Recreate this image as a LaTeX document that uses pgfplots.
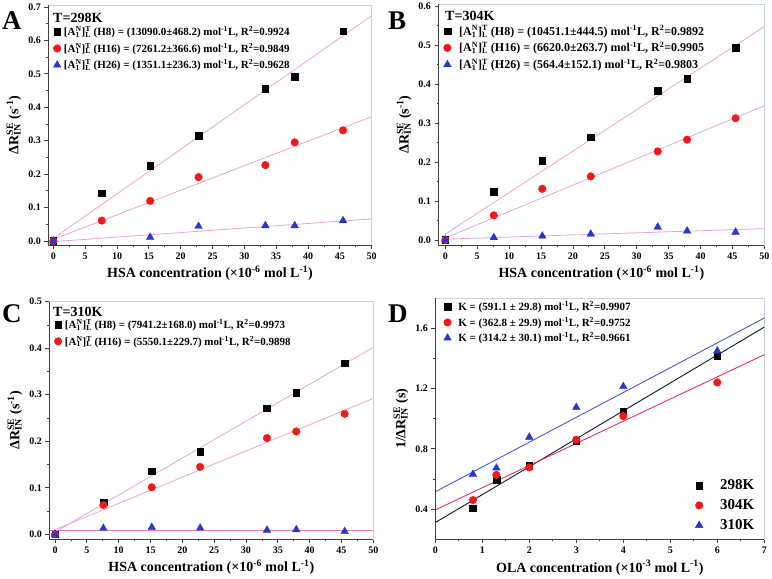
\documentclass[border=0pt]{standalone}
\usepackage{fontspec}
\setmainfont{Liberation Serif}
\usepackage{pgfplots}
\pgfplotsset{compat=1.18}
\definecolor{fitpink}{HTML}{E8A4D8}
\definecolor{fitpinkD}{HTML}{E878B8}
\definecolor{mred}{HTML}{F01818}
\definecolor{mblue}{HTML}{2838C8}
\definecolor{framec}{HTML}{C8D2DA}
\definecolor{axisc}{HTML}{404040}
\definecolor{dblue}{HTML}{5058C8}
\definecolor{dblack}{HTML}{101830}
\definecolor{dred}{HTML}{E43070}
\newcommand\SupSub[2]{\setbox0\hbox{\textsuperscript{#1}}\setbox2\hbox{\textsubscript{#2}}\rlap{\copy0}\copy2\ifdim\wd0>\wd2 \kern\dimexpr\wd0-\wd2\relax\fi}
\newcommand\AN{[A\SupSub{N}{1}]\SupSub{T}{L}}
\pgfplotsset{
  panel/.style={
    scale only axis, anchor=south west,
    axis line style={framec, line width=0.8pt},
    tick align=outside, xtick pos=left, ytick pos=left,
    major tick length=4pt, minor tick length=2pt,
    every tick/.style={axisc, line width=0.8pt},
    minor x tick num=1, minor y tick num=1,
    tick label style={font=\fontsize{10}{10}\selectfont\bfseries},
    /pgf/number format/assume math mode=true,
    label style={font=\fontsize{14}{14}\selectfont\bfseries},
    clip mode=individual,
    legend style={draw=none, fill=none, font=\fontsize{11}{11}\selectfont\bfseries,
      cells={anchor=west}, inner sep=0pt, row sep=4pt,
      nodes={inner sep=1pt},
      /tikz/every odd column/.append style={column sep=2pt}},
    legend image code/.code={\draw[##1] plot coordinates {(0pt,0pt)};},
    execute at end axis={\draw[axisc, line width=0.9pt] (rel axis cs:0,1) -- (rel axis cs:0,0) -- (rel axis cs:1,0);},
  },
  hsa/.style={xmax=50, xtick={0,5,...,50},
    xlabel={HSA concentration (×10\textsuperscript{-6} mol L\textsuperscript{-1})},
    ylabel={ΔR\SupSub{SE}{IN} (s\textsuperscript{-1})},
    yticklabel style={/pgf/number format/.cd, fixed, fixed zerofill, precision=1}},
  fit/.style={fitpink, line width=0.8pt, no marks, forget plot},
  bsq/.style={only marks, mark=square*, mark size=3.3pt, black},
  rci/.style={only marks, mark=*, mark size=3.8pt, mred, mark options={draw=mred, fill=mred}},
  btr/.style={only marks, mark=triangle*, mark size=4.4pt, mblue, mark options={draw=mblue, fill=mblue}},
}
\begin{document}
\begin{tikzpicture}
\useasboundingbox (0,0) rectangle (772pt,579pt);
% Panel A
\begin{axis}[panel, hsa, at={(48.3pt,334pt)}, width=323.4pt, height=240pt,
  xmin=-0.8, ymin=-0.012, ymax=0.706, ytick={0,0.1,...,0.7},
  legend style={at={(axis description cs:0.015,0.915)}, anchor=north west}]
\addplot[fit] coordinates {(0,0.008) (50,0.674)};
\addplot[fit] coordinates {(0,0.005) (50,0.372)};
\addplot[fit] coordinates {(0,-0.002) (50,0.066)};
\addplot[bsq] coordinates {(0,0) (7.6,0.143) (15.2,0.226) (22.8,0.315) (33.3,0.456) (37.9,0.491) (45.5,0.628)};
\addlegendentry{\AN{} (H8) = (13090.0±468.2) mol\textsuperscript{-1}L, R\textsuperscript{2}=0.9924}
\addplot[rci] coordinates {(0,0) (7.6,0.061) (15.2,0.120) (22.8,0.191) (33.3,0.227) (37.9,0.295) (45.5,0.331)};
\addlegendentry{\AN{} (H16) = (7261.2±366.6) mol\textsuperscript{-1}L, R\textsuperscript{2}=0.9849}
\addplot[btr] coordinates {(0,0) (15.2,0.011) (22.8,0.044) (33.3,0.046) (37.9,0.046) (45.5,0.061)};
\addlegendentry{\AN{} (H26) = (1351.1±236.3) mol\textsuperscript{-1}L, R\textsuperscript{2}=0.9628}
\end{axis}
% Panel B
\begin{axis}[panel, hsa, at={(438.5pt,334pt)}, width=325.8pt, height=241pt,
  xmin=-1.07, ymin=-0.013, ymax=0.605, ytick={0,0.1,...,0.6},
  legend style={at={(axis description cs:0.015,0.915)}, anchor=north west,
    font=\fontsize{12}{12}\selectfont\bfseries, row sep=3.5pt,
    /tikz/every odd column/.append style={column sep=7pt}}]
\addplot[fit] coordinates {(0,0.015) (50,0.547)};
\addplot[fit] coordinates {(0,0.005) (50,0.344)};
\addplot[fit] coordinates {(0,0.002) (50,0.029)};
\addplot[bsq] coordinates {(0,0) (7.6,0.123) (15.2,0.203) (22.8,0.263) (33.3,0.383) (37.9,0.414) (45.5,0.493)};
\addlegendentry{\AN{} (H8) = (10451.1±444.5) mol\textsuperscript{-1}L, R\textsuperscript{2}=0.9892}
\addplot[rci] coordinates {(0,0) (7.6,0.063) (15.2,0.131) (22.8,0.163) (33.3,0.227) (37.9,0.257) (45.5,0.312)};
\addlegendentry{\AN{} (H16) = (6620.0±263.7) mol\textsuperscript{-1}L, R\textsuperscript{2}=0.9905}
\addplot[btr] coordinates {(0,0) (7.6,0.006) (15.2,0.010) (22.8,0.015) (33.3,0.033) (37.9,0.023) (45.5,0.020)};
\addlegendentry{\AN{} (H26) = (564.4±152.1) mol\textsuperscript{-1}L, R\textsuperscript{2}=0.9803}
\end{axis}
% Panel C
\begin{axis}[panel, hsa, at={(49.3pt,40pt)}, width=324pt, height=237.3pt,
  xmin=-0.9, ymin=-0.0101, ymax=0.5, ytick={0,0.1,...,0.5},
  legend style={at={(axis description cs:0.015,0.93)}, anchor=north west}]
\addplot[fit] coordinates {(0,0.005) (50,0.402)};
\addplot[fit] coordinates {(0,0.010) (50,0.292)};
\addplot[fitpinkD, line width=0.9pt, no marks, forget plot] coordinates {(-0.9,0.009) (50,0.009)};
\addplot[bsq] coordinates {(0,0) (7.6,0.069) (15.2,0.136) (22.8,0.177) (33.3,0.271) (37.9,0.305) (45.5,0.368)};
\addlegendentry{\AN{} (H8) = (7941.2±168.0) mol\textsuperscript{-1}L, R\textsuperscript{2}=0.9973}
\addplot[rci] coordinates {(0,0) (7.6,0.063) (15.2,0.101) (22.8,0.145) (33.3,0.207) (37.9,0.221) (45.5,0.259)};
\addlegendentry{\AN{} (H16) = (5550.1±229.7) mol\textsuperscript{-1}L, R\textsuperscript{2}=0.9898}
\addplot[btr, forget plot] coordinates {(0,0) (7.6,0.013) (15.2,0.015) (22.8,0.0135) (33.3,0.009) (37.9,0.010) (45.5,0.006)};
\end{axis}
% Panel D
\begin{axis}[panel, at={(435.3pt,39.7pt)}, width=329pt, height=241.3pt,
  xmin=0, xmax=7, ymin=0.2, ymax=1.8, xtick={0,...,7}, ytick={0.4,0.8,1.2,1.6},
  yticklabel style={/pgf/number format/.cd, fixed, fixed zerofill, precision=1},
  xlabel={OLA concentration (×10\textsuperscript{-3} mol L\textsuperscript{-1})},
  ylabel={1/ΔR\SupSub{SE}{IN} (s)},
  legend style={at={(axis description cs:0.79,0.252)}, anchor=north west,
    font=\fontsize{15}{15}\selectfont\bfseries, row sep=6.5pt,
    /tikz/every odd column/.append style={column sep=16pt}}]
\addplot[dblack, line width=0.9pt, no marks, forget plot] coordinates {(0,0.311) (7,1.607)};
\addplot[dred, line width=0.9pt, no marks, forget plot] coordinates {(0,0.395) (7,1.424)};
\addplot[dblue, line width=0.9pt, no marks, forget plot] coordinates {(0,0.515) (7,1.667)};
\addplot[bsq] coordinates {(0.8,0.407) (1.3,0.595) (2,0.689) (3,0.855) (4,1.047) (6,1.417)};
\addlegendentry{298K}
\addplot[rci] coordinates {(0.8,0.460) (1.3,0.627) (2,0.677) (3,0.860) (4,1.017) (6,1.240)};
\addlegendentry{304K}
\addplot[btr] coordinates {(0.8,0.631) (1.3,0.673) (2,0.877) (3,1.075) (4,1.213) (6,1.449)};
\addlegendentry{310K}
\end{axis}
\begin{axis}[scale only axis, anchor=south west, at={(435.3pt,39.7pt)}, width=329pt, height=241.3pt,
  xmin=0, xmax=7, ymin=0.2, ymax=1.8, hide axis,
  legend style={draw=none, fill=none, font=\fontsize{11}{11}\selectfont\bfseries,
    cells={anchor=west}, inner sep=0pt, row sep=3pt, nodes={inner sep=1pt},
    /tikz/every odd column/.append style={column sep=6pt},
    at={(axis description cs:0.025,0.99)}, anchor=north west},
  legend image code/.code={\draw[#1] plot coordinates {(0pt,0pt)};}]
\addlegendimage{only marks, mark=square*, mark size=3.3pt, black}
\addlegendentry{K = (591.1 ± 29.8) mol\textsuperscript{-1}L, R\textsuperscript{2}=0.9907}
\addlegendimage{only marks, mark=*, mark size=3.8pt, mred, mark options={draw=mred, fill=mred}}
\addlegendentry{K = (362.8 ± 29.9) mol\textsuperscript{-1}L, R\textsuperscript{2}=0.9752}
\addlegendimage{only marks, mark=triangle*, mark size=4.4pt, mblue, mark options={draw=mblue, fill=mblue}}
\addlegendentry{K = (314.2 ± 30.1) mol\textsuperscript{-1}L, R\textsuperscript{2}=0.9661}
\end{axis}
% titles and panel letters
\node[anchor=base west, inner sep=0pt, font=\fontsize{27}{27}\selectfont\bfseries] at (2pt,549pt) {A};
\node[anchor=base west, inner sep=0pt, font=\fontsize{27}{27}\selectfont\bfseries] at (388pt,549pt) {B};
\node[anchor=base west, inner sep=0pt, font=\fontsize{27}{27}\selectfont\bfseries] at (2pt,256pt) {C};
\node[anchor=base west, inner sep=0pt, font=\fontsize{27}{27}\selectfont\bfseries] at (388pt,256pt) {D};
\node[anchor=base west, inner sep=0pt, font=\fontsize{14}{14}\selectfont\bfseries] at (53pt,556pt) {T=298K};
\node[anchor=base west, inner sep=0pt, font=\fontsize{14}{14}\selectfont\bfseries] at (445pt,558pt) {T=304K};
\node[anchor=base west, inner sep=0pt, font=\fontsize{14}{14}\selectfont\bfseries] at (53pt,262pt) {T=310K};
\end{tikzpicture}
\end{document}
